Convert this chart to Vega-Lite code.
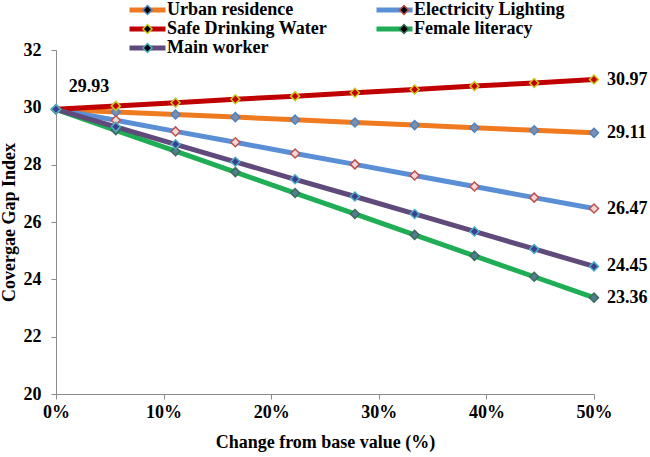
{
  "$schema": "https://vega.github.io/schema/vega-lite/v6.json",
  "width": 538,
  "height": 344,
  "autosize": {"type": "none"},
  "padding": {"left": 56, "top": 50, "right": 56, "bottom": 63},
  "background": "white",
  "config": {
    "view": {"stroke": null},
    "font": "Liberation Serif",
    "axis": {
      "grid": false,
      "domainColor": "#8c8c8c",
      "tickColor": "#8c8c8c",
      "tickSize": 5,
      "labelFont": "Liberation Serif",
      "labelFontSize": 18,
      "labelFontWeight": "bold",
      "labelColor": "#000000",
      "titleFont": "Liberation Serif",
      "titleFontSize": 18,
      "titleFontWeight": "bold",
      "titleColor": "#000000"
    },
    "legend": {
      "orient": "none",
      "legendX": 71,
      "legendY": -49,
      "columns": 2,
      "rowPadding": 1,
      "padding": 0,
      "clipHeight": 18,
      "labelFont": "Liberation Serif",
      "labelFontSize": 18,
      "labelFontWeight": "bold",
      "labelColor": "#000000",
      "labelOffset": -1,
      "labelLimit": 400,
      "title": null
    }
  },
  "data": {
    "values": [
      {"x": 0, "y": 29.93, "series": "Urban residence", "label": "29.93", "pos": "start"},
      {"x": 0.0556, "y": 29.84, "series": "Urban residence"},
      {"x": 0.1111, "y": 29.75, "series": "Urban residence"},
      {"x": 0.1667, "y": 29.66, "series": "Urban residence"},
      {"x": 0.2222, "y": 29.57, "series": "Urban residence"},
      {"x": 0.2778, "y": 29.47, "series": "Urban residence"},
      {"x": 0.3333, "y": 29.38, "series": "Urban residence"},
      {"x": 0.3889, "y": 29.29, "series": "Urban residence"},
      {"x": 0.4444, "y": 29.2, "series": "Urban residence"},
      {"x": 0.5, "y": 29.11, "series": "Urban residence", "label": "29.11", "pos": "end"},
      {"x": 0, "y": 29.93, "series": "Electricity Lighting"},
      {"x": 0.0556, "y": 29.55, "series": "Electricity Lighting"},
      {"x": 0.1111, "y": 29.16, "series": "Electricity Lighting"},
      {"x": 0.1667, "y": 28.78, "series": "Electricity Lighting"},
      {"x": 0.2222, "y": 28.39, "series": "Electricity Lighting"},
      {"x": 0.2778, "y": 28.01, "series": "Electricity Lighting"},
      {"x": 0.3333, "y": 27.62, "series": "Electricity Lighting"},
      {"x": 0.3889, "y": 27.24, "series": "Electricity Lighting"},
      {"x": 0.4444, "y": 26.85, "series": "Electricity Lighting"},
      {"x": 0.5, "y": 26.47, "series": "Electricity Lighting", "label": "26.47", "pos": "end"},
      {"x": 0, "y": 29.93, "series": "Safe Drinking Water"},
      {"x": 0.0556, "y": 30.05, "series": "Safe Drinking Water"},
      {"x": 0.1111, "y": 30.16, "series": "Safe Drinking Water"},
      {"x": 0.1667, "y": 30.28, "series": "Safe Drinking Water"},
      {"x": 0.2222, "y": 30.39, "series": "Safe Drinking Water"},
      {"x": 0.2778, "y": 30.51, "series": "Safe Drinking Water"},
      {"x": 0.3333, "y": 30.62, "series": "Safe Drinking Water"},
      {"x": 0.3889, "y": 30.74, "series": "Safe Drinking Water"},
      {"x": 0.4444, "y": 30.85, "series": "Safe Drinking Water"},
      {"x": 0.5, "y": 30.97, "series": "Safe Drinking Water", "label": "30.97", "pos": "end"},
      {"x": 0, "y": 29.93, "series": "Female literacy"},
      {"x": 0.0556, "y": 29.2, "series": "Female literacy"},
      {"x": 0.1111, "y": 28.47, "series": "Female literacy"},
      {"x": 0.1667, "y": 27.74, "series": "Female literacy"},
      {"x": 0.2222, "y": 27.01, "series": "Female literacy"},
      {"x": 0.2778, "y": 26.28, "series": "Female literacy"},
      {"x": 0.3333, "y": 25.55, "series": "Female literacy"},
      {"x": 0.3889, "y": 24.82, "series": "Female literacy"},
      {"x": 0.4444, "y": 24.09, "series": "Female literacy"},
      {"x": 0.5, "y": 23.36, "series": "Female literacy", "label": "23.36", "pos": "end"},
      {"x": 0, "y": 29.93, "series": "Main worker"},
      {"x": 0.0556, "y": 29.32, "series": "Main worker"},
      {"x": 0.1111, "y": 28.71, "series": "Main worker"},
      {"x": 0.1667, "y": 28.1, "series": "Main worker"},
      {"x": 0.2222, "y": 27.49, "series": "Main worker"},
      {"x": 0.2778, "y": 26.89, "series": "Main worker"},
      {"x": 0.3333, "y": 26.28, "series": "Main worker"},
      {"x": 0.3889, "y": 25.67, "series": "Main worker"},
      {"x": 0.4444, "y": 25.06, "series": "Main worker"},
      {"x": 0.5, "y": 24.45, "series": "Main worker", "label": "24.45", "pos": "end"}
    ]
  },
  "encoding": {
    "x": {
      "field": "x", "type": "quantitative",
      "scale": {"domain": [0, 0.5], "nice": false, "zero": false},
      "axis": {"values": [0, 0.1, 0.2, 0.3, 0.4, 0.5], "format": ".0%", "title": "Change from base value (%)", "labelPadding": 4, "titlePadding": 12, "labelFlush": false}
    },
    "y": {
      "field": "y", "type": "quantitative",
      "scale": {"domain": [20, 32], "nice": false, "zero": false},
      "axis": {"values": [20, 22, 24, 26, 28, 30, 32], "format": "d", "title": "Covergae Gap Index", "labelPadding": 10, "titlePadding": 5}
    }
  },
  "layer": [
    {
      "mark": {"type": "line", "strokeWidth": 5},
      "encoding": {
        "color": {
          "field": "series", "type": "nominal",
          "scale": {
            "domain": ["Urban residence", "Safe Drinking Water", "Main worker", "Electricity Lighting", "Female literacy"],
            "range": ["#ef7a1f", "#c00000", "#604a7b", "#5a8fd6", "#1fae55"]
          },
          "legend": {"symbolType": "stroke", "symbolSize": 1296, "symbolStrokeWidth": 5, "columnPadding": 47}
        }
      }
    },
    {
      "mark": {"type": "point", "shape": "diamond", "size": 81, "strokeWidth": 1.5, "filled": true, "opacity": 1},
      "encoding": {
        "fill": {
          "field": "series", "type": "nominal",
          "sort": ["Urban residence", "Safe Drinking Water", "Main worker", "Electricity Lighting", "Female literacy"],
          "scale": {"range": ["#7d8fb0", "#c00000", "#3a3f8c", "#f4d8d8", "#4f7e92"]},
          "legend": {"symbolType": "M-1,0L-1,0M1,0L1,0M0,-0.23L0.23,0L0,0.23L-0.23,0Z", "symbolSize": 1560, "symbolStrokeWidth": 1.5, "labelExpr": "''", "columnPadding": 216.5, "symbolOpacity": 1}
        },
        "stroke": {
          "field": "series", "type": "nominal",
          "sort": ["Urban residence", "Safe Drinking Water", "Main worker", "Electricity Lighting", "Female literacy"],
          "scale": {"range": ["#4f81bd", "#c8c820", "#4bacc6", "#c0504d", "#3d6b5a"]},
          "legend": {"symbolType": "M-1,0L-1,0M1,0L1,0M0,-0.23L0.23,0L0,0.23L-0.23,0Z", "symbolSize": 1560, "symbolStrokeWidth": 1.5, "labelExpr": "''", "columnPadding": 216.5, "symbolOpacity": 1}
        }
      }
    },
    {
      "transform": [{"filter": "datum.pos === 'start'"}],
      "mark": {"type": "text", "font": "Liberation Serif", "fontSize": 18, "fontWeight": "bold", "color": "#000000", "align": "center", "baseline": "middle", "dx": 33, "dy": -22},
      "encoding": {"text": {"field": "label"}}
    },
    {
      "transform": [{"filter": "datum.pos === 'end'"}],
      "mark": {"type": "text", "font": "Liberation Serif", "fontSize": 18, "fontWeight": "bold", "color": "#000000", "align": "left", "baseline": "middle", "dx": 13},
      "encoding": {"text": {"field": "label"}}
    }
  ]
}
